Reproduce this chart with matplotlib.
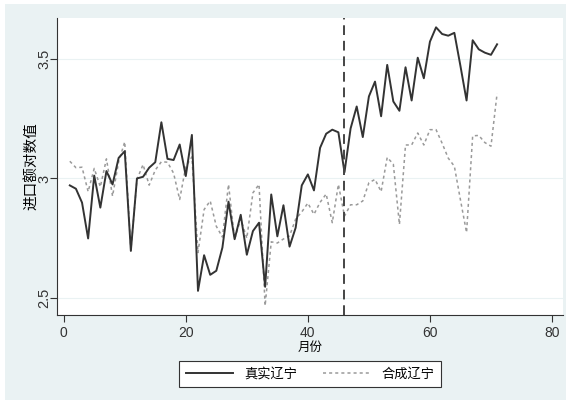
import numpy as np
import matplotlib
matplotlib.use('Agg')
import matplotlib.pyplot as plt
from matplotlib.patches import Rectangle

plt.rcParams['font.family'] = ['Liberation Sans', 'Noto Sans CJK SC']

# 月份
months = list(range(1, 72))

# 真实辽宁
real_ln = [2.971, 2.957, 2.899, 2.749, 3.012, 2.878, 3.031, 2.975, 3.086, 3.114,
           2.697, 3.000, 3.007, 3.045, 3.068, 3.235, 3.082, 3.077, 3.142, 3.010,
           3.182, 2.530, 2.679, 2.597, 2.614, 2.711, 2.903, 2.746, 2.848, 2.681,
           2.780, 2.815, 2.547, 2.933, 2.758, 2.888, 2.715, 2.794, 2.971, 3.017,
           2.950, 3.128, 3.187, 3.204, 3.193, 3.026, 3.209, 3.301, 3.173, 3.343,
           3.405, 3.260, 3.475, 3.322, 3.283, 3.465, 3.326, 3.505, 3.419, 3.572,
           3.632, 3.604, 3.597, 3.609, 3.470, 3.326, 3.578, 3.540, 3.526, 3.517,
           3.561]

# 合成辽宁
synth_ln = [3.072, 3.045, 3.047, 2.945, 3.042, 2.965, 3.082, 2.926, 3.070, 3.153,
            2.700, 2.996, 3.058, 2.972, 3.035, 3.070, 3.068, 3.022, 2.912, 3.050,
            3.090, 2.690, 2.870, 2.906, 2.800, 2.755, 2.975, 2.746, 2.830, 2.750,
            2.940, 2.975, 2.468, 2.735, 2.730, 2.747, 2.760, 2.830, 2.860, 2.897,
            2.850, 2.900, 2.935, 2.815, 2.975, 2.843, 2.890, 2.890, 2.906, 2.982,
            2.996, 2.945, 3.088, 3.060, 2.808, 3.140, 3.140, 3.190, 3.140, 3.204,
            3.204, 3.147, 3.085, 3.051, 2.910, 2.774, 3.178, 3.180, 3.150, 3.135,
            3.355]

policy_month = 46
x_ticks = [0, 20, 40, 60, 80]
y_ticks = [2.5, 3, 3.5]
y_ticklabels = ['2.5', '3', '3.5']

fig = plt.figure(figsize=(5.71, 4.05), dpi=100, facecolor='white')
fig.patches.append(Rectangle((5 / 571, 5 / 405), 561 / 571, 396 / 405,
                             transform=fig.transFigure, facecolor='#eaf2f3',
                             edgecolor='none', zorder=-10))

ax = fig.add_axes([57 / 571, 1 - 315 / 405, 506 / 571, 297 / 405])
ax.set_facecolor('white')

for yt in y_ticks:
    ax.axhline(yt, color='#eaf2f3', lw=0.8, zorder=1)

ax.plot(months, real_ln, color='#333333', lw=1.4, label='真实辽宁', zorder=3)
ax.plot(months, synth_ln, color='#9a9a9a', lw=1.1, ls=(0, (2, 2)), label='合成辽宁', zorder=2)
ax.axvline(policy_month, color='#444444', lw=1.4, ls=(0, (5, 3)), zorder=4)

ax.set_xlim(-1.1, 81.8)
ax.set_ylim(2.429, 3.671)
ax.set_xticks(x_ticks)
ax.set_yticks(y_ticks)
ax.set_yticklabels(y_ticklabels, rotation=90, va='center')

for s in ['top', 'right']:
    ax.spines[s].set_visible(False)
for s in ['left', 'bottom']:
    ax.spines[s].set_color('#333333')
    ax.spines[s].set_linewidth(0.8)

ax.tick_params(direction='out', length=5, width=0.8, colors='#333333', labelsize=10, pad=3)
ax.tick_params(axis='y', labelsize=10.5, pad=-1)

ax.set_xlabel('月份', fontsize=9, labelpad=1)
ax.set_ylabel('进口额对数值', fontsize=10.5)
ax.yaxis.set_label_coords(-0.036, 0.5)

leg = fig.legend(loc='center', bbox_to_anchor=(310 / 571, 1 - 374 / 405), ncol=2,
                 fontsize=9.5, frameon=True, fancybox=False, handlelength=3.6,
                 columnspacing=2.0, borderpad=0.5, framealpha=1)
leg.get_frame().set_facecolor('white')
leg.get_frame().set_edgecolor('#333333')
leg.get_frame().set_linewidth(0.8)

fig.savefig('out.png', dpi=100, facecolor=fig.get_facecolor())
